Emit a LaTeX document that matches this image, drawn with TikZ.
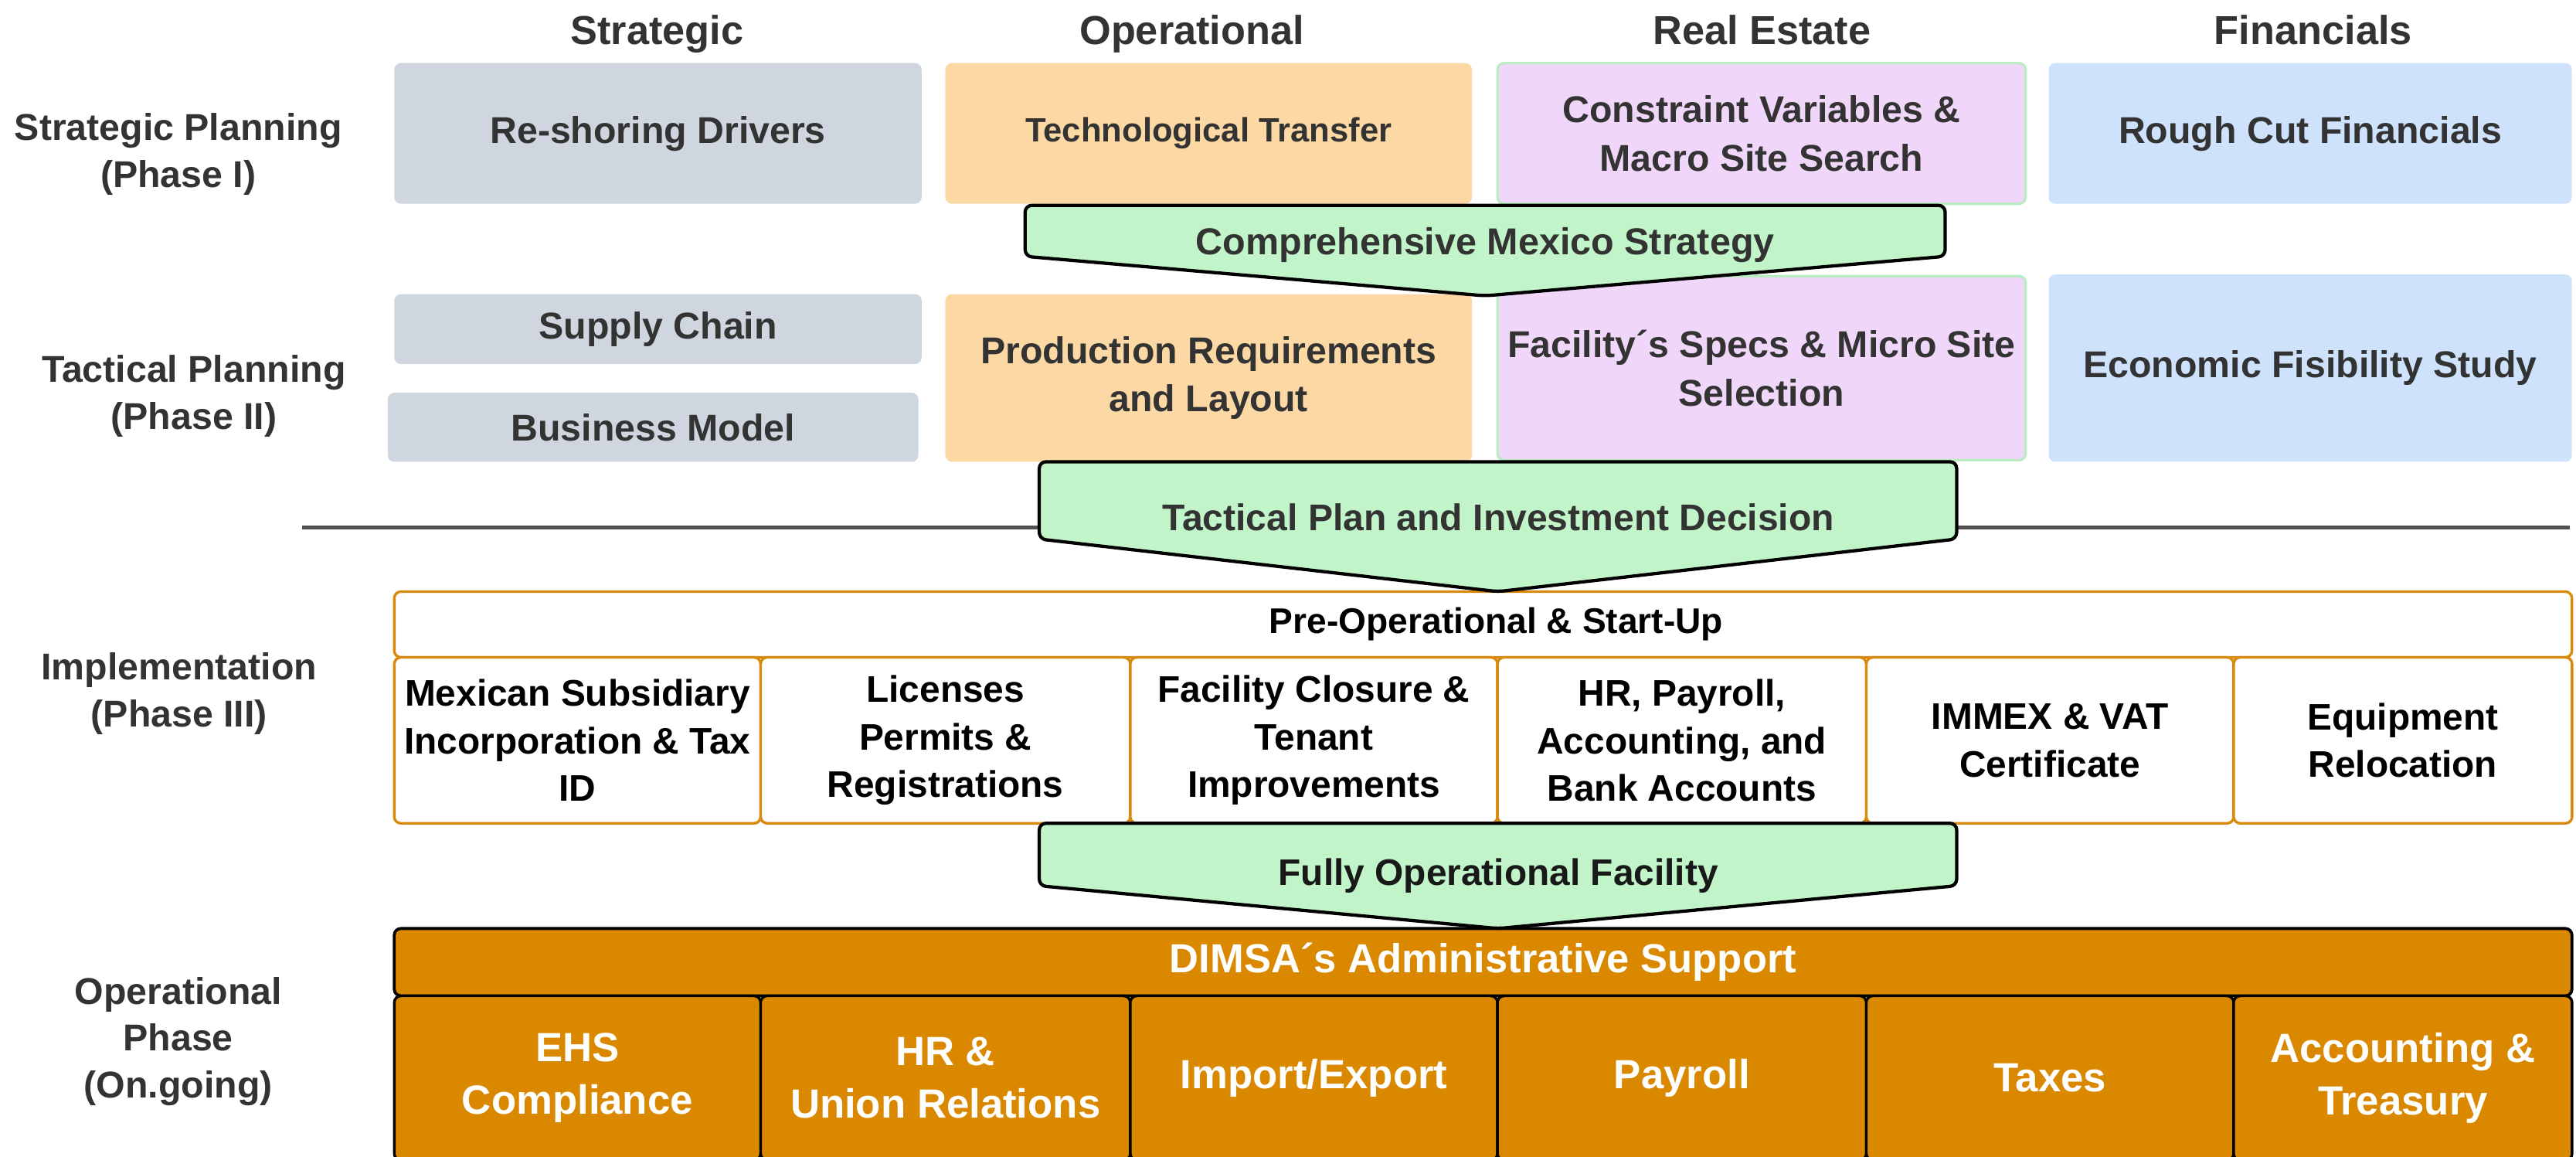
\documentclass[tikz,border=0pt]{standalone}
\usepackage{fontspec}
\setmainfont{Liberation Sans}
\definecolor{cgray}{HTML}{CFD6DF}
\definecolor{corange}{HTML}{FCD9A4}
\definecolor{cpurple}{HTML}{F0D7F9}
\definecolor{cpurpleborder}{HTML}{B9EDC1}
\definecolor{cblue}{HTML}{CFE2FB}
\definecolor{cgreen}{HTML}{C2F4C9}
\definecolor{cobord}{HTML}{D98A0C}
\definecolor{cdark}{HTML}{D98800}
\definecolor{ctext}{HTML}{333333}
\definecolor{csep}{HTML}{505050}
\begin{document}
\begin{tikzpicture}[x=1pt,y=-1pt,
  every node/.style={inner sep=0pt, outer sep=0pt, align=center},
  hdr/.style={font=\bfseries\fontsize{24.6}{29}\selectfont, text=ctext, anchor=base},
  lbl/.style={font=\bfseries\fontsize{22.7}{28.5}\selectfont, text=ctext},
  topbox/.style={rounded corners=4pt, font=\bfseries\fontsize{22.7}{29.5}\selectfont, text=ctext},
  graybox/.style={topbox, fill=cgray},
  orangebox/.style={topbox, fill=corange},
  purplebox/.style={topbox, fill=cpurple, draw=cpurpleborder, line width=1.5pt},
  bluebox/.style={topbox, fill=cblue},
  pent/.style={fill=cgreen, draw=black, line width=2pt, rounded corners=4pt},
  penttext/.style={font=\bfseries\fontsize{22.6}{28}\selectfont, text=ctext, anchor=base},
  implbar/.style={rounded corners=4pt, fill=white, draw=cobord, line width=1.6pt,
    font=\bfseries\fontsize{21.7}{28}\selectfont, text=black},
  implbox/.style={rounded corners=4pt, fill=white, draw=cobord, line width=1.6pt,
    font=\bfseries\fontsize{22.5}{29}\selectfont, text=black, minimum height=101pt},
  opbar/.style={rounded corners=4pt, fill=cdark, draw=black, line width=1.8pt,
    font=\bfseries\fontsize{24.7}{32}\selectfont, text=white},
  opbox/.style={rounded corners=4pt, fill=cdark, draw=black, line width=1.6pt,
    font=\bfseries\fontsize{24.8}{32}\selectfont, text=white, minimum height=100pt},
  sepline/.style={draw=csep, line width=2.4pt}
]
\clip (0,0) rectangle (1568,704);
\fill[white] (0,0) rectangle (1568,704);

% column headers
\node[hdr] (hStrategic) at (400,27) {Strategic};
\node[hdr] (hOperational) at (725.5,27) {Operational};
\node[hdr] (hRealEstate) at (1072.5,27) {Real Estate};
\node[hdr] (hFinancials) at (1408,27) {Financials};

% row labels
\node[lbl] (lStrat) at (108.5,93.8) {Strategic Planning\\(Phase I)};
\node[lbl] (lTact) at (118,241) {Tactical Planning\\(Phase II)};
\node[lbl] (lImpl) at (109,422) {Implementation\\(Phase III)};
\node[lbl] (lOper) at (108.5,633.7) {Operational\\Phase\\(On.going)};

% row 1
\node[graybox, minimum width=321pt, minimum height=85.6pt] (reshore) at (400.5,81.2) {Re-shoring Drivers};
\node[orangebox, minimum width=320.6pt, minimum height=85.6pt, font=\bfseries\fontsize{20.5}{26}\selectfont] (techtr) at (735.7,81.2) {Technological Transfer};
\node[purplebox, minimum width=321.5pt, minimum height=85.6pt] (constraint) at (1072.25,81.2) {Constraint Variables \&\\Macro Site Search};
\node[bluebox, minimum width=318.5pt, minimum height=85.6pt] (roughcut) at (1406.25,81.2) {Rough Cut Financials};

% row 2
\node[graybox, minimum width=321pt, minimum height=42.5pt] (supply) at (400.5,200.25) {Supply Chain};
\node[graybox, minimum width=323pt, minimum height=42pt] (business) at (397.5,260) {Business Model};
\node[orangebox, minimum width=320.6pt, minimum height=102pt] (production) at (735.7,230) {Production Requirements\\and Layout};
\node[purplebox, minimum width=321.5pt, minimum height=112pt] (facility) at (1072.25,224) {Facility´s Specs \& Micro Site\\Selection};
\node[bluebox, minimum width=318.5pt, minimum height=114pt] (economic) at (1406.25,224) {Economic Fisibility Study};

% separator line
\coordinate (sepL) at (184,321);
\coordinate (sepR) at (1564,321);
\draw[sepline] (sepL) -- (sepR);

% implementation
\node[implbar, minimum width=1325.5pt, minimum height=40pt] (preop) at (902.75,380) {\hspace*{16pt}Pre-Operational \& Start-Up};
\node[implbox, minimum width=223pt] (mexsub) at (351.5,450.5) {Mexican Subsidiary\\Incorporation \& Tax\\ID};
\node[implbox, minimum width=225pt] (licenses) at (575.5,450.5) {Licenses\\Permits \&\\Registrations};
\node[implbox, minimum width=223.5pt] (closure) at (799.75,450.5) {Facility Closure \&\\Tenant\\Improvements};
\node[implbox, minimum width=224.5pt] (hrpay) at (1023.75,450.5) {HR, Payroll,\\Accounting, and\\Bank Accounts};
\node[implbox, minimum width=223.6pt] (immex) at (1247.8,450.5) {IMMEX \& VAT\\Certificate};
\node[implbox, minimum width=206pt] (equip) at (1462.6,450.5) {Equipment\\Relocation};

% operational phase
\node[opbar, minimum width=1325.5pt, minimum height=41pt] (dimsa) at (902.75,585.5) {DIMSA´s Administrative Support};
\node[opbox, minimum width=223pt] (ehs) at (351.5,656) {EHS\\Compliance};
\node[opbox, minimum width=225pt] (hrunion) at (575.5,656) {HR \&\\Union Relations};
\node[opbox, minimum width=223.5pt] (impexp) at (799.75,656) {Import/Export};
\node[opbox, minimum width=224.5pt] (payroll) at (1023.75,656) {Payroll};
\node[opbox, minimum width=223.6pt] (taxes) at (1247.8,656) {Taxes};
\node[opbox, minimum width=206pt] (acct) at (1462.6,656) {Accounting \&\\Treasury};

% pentagon arrows
\draw[pent] (624,125) -- (1184,125) -- (1184,156) -- (904,180) -- (624,156) -- cycle;
\node[penttext, font=\bfseries\fontsize{22.8}{28}\selectfont] (cms) at (904,155) {Comprehensive Mexico Strategy};

\draw[pent] (632.6,281) -- (1191,281) -- (1191,328) -- (911.8,360) -- (632.6,328) -- cycle;
\node[penttext] (tpid) at (912,323) {Tactical Plan and Investment Decision};

\draw[pent] (632.6,501) -- (1191,501) -- (1191,539) -- (911.8,565) -- (632.6,539) -- cycle;
\node[penttext, font=\bfseries\fontsize{22.5}{28}\selectfont, text=black!90] (fof) at (912,538.6) {Fully Operational Facility};
\end{tikzpicture}
\end{document}
